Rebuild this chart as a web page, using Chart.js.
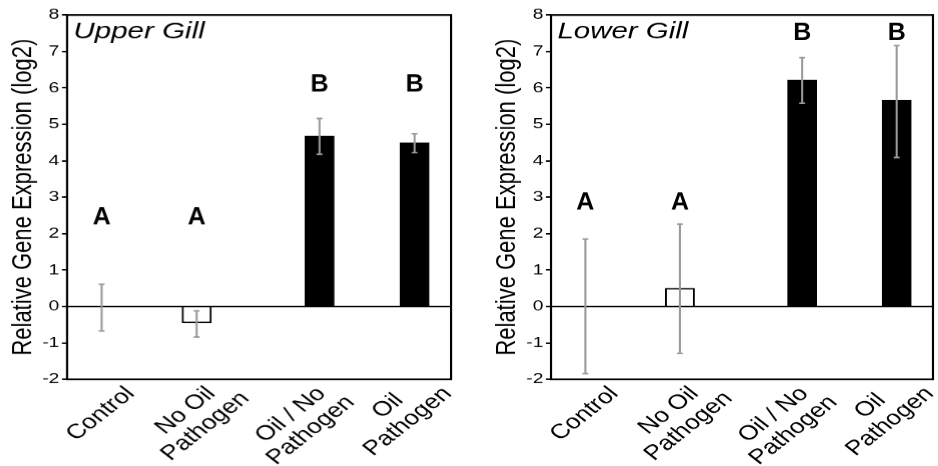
<!DOCTYPE html>
<html>
<head>
<meta charset="utf-8">
<script src="https://cdn.jsdelivr.net/npm/chart.js@4.4.0/dist/chart.umd.min.js"></script>
<style>
  html, body { margin: 0; padding: 0; background: #fff; }
  .wrap { display: flex; width: 938px; height: 466px; }
  canvas { display: block; }
</style>
</head>
<body>
<div class="wrap">
  <canvas id="upperChart" width="367" height="466" style="width:470px;height:466px"></canvas>
  <canvas id="lowerChart" width="366" height="466" style="width:468px;height:466px"></canvas>
</div>
<script>
  // Dữ liệu chung
  const groupLabels = [['Control'], ['No Oil', 'Pathogen'], ['Oil / No', 'Pathogen'], ['Oil', 'Pathogen']];
  const barX = [0.36, 1.35, 2.63, 3.62];
  const labelX = [0.35, 1.41, 2.48, 3.55];
  const yMin = -2;
  const yMax = 8;

  // Upper Gill
  const upperValues = [0, -0.45, 4.68, 4.49];
  const upperErrLow = [-0.67, -0.84, 4.18, 4.22];
  const upperErrHigh = [0.61, -0.12, 5.16, 4.74];
  const upperLetters = ['A', 'A', 'B', 'B'];
  const upperLetterY = [2.44, 2.44, 6.1, 6.1];

  // Lower Gill
  const lowerValues = [0, 0.5, 6.22, 5.66];
  const lowerErrLow = [-1.84, -1.29, 5.58, 4.09];
  const lowerErrHigh = [1.85, 2.26, 6.83, 7.16];
  const lowerLetters = ['A', 'A', 'B', 'B'];
  const lowerLetterY = [2.84, 2.84, 7.51, 7.51];

  // the original figure is stretched sideways, so the canvas is too
  const K = 1.28;
  const FONT = "'Liberation Sans', Arial, sans-serif";
  Chart.defaults.font.family = FONT;
  Chart.defaults.color = '#000';

  function extrasPlugin(title, errLow, errHigh, letters, letterY) {
    return {
      id: 'panelExtras',
      afterDatasetsDraw(chart) {
        const { ctx, chartArea: a, scales: { x, y } } = chart;
        ctx.save();

        // error bars
        ctx.strokeStyle = '#999';
        ctx.lineWidth = 1.6;
        for (let i = 0; i < barX.length; i++) {
          const px = x.getPixelForValue(barX[i]);
          const top = y.getPixelForValue(errHigh[i]);
          const bot = y.getPixelForValue(errLow[i]);
          ctx.beginPath();
          ctx.moveTo(px, top); ctx.lineTo(px, bot);
          ctx.moveTo(px - 2.3, top); ctx.lineTo(px + 2.3, top);
          ctx.moveTo(px - 2.3, bot); ctx.lineTo(px + 2.3, bot);
          ctx.stroke();
        }

        // box
        ctx.strokeStyle = '#000';
        ctx.lineWidth = 1.7;
        ctx.strokeRect(a.left, a.top, a.width, a.height);

        // letters (not stretched in the reference)
        ctx.fillStyle = '#000';
        ctx.font = `bold 25px ${FONT}`;
        ctx.textAlign = 'center';
        ctx.textBaseline = 'middle';
        for (let i = 0; i < letters.length; i++) {
          ctx.save();
          ctx.translate(x.getPixelForValue(barX[i]), y.getPixelForValue(letterY[i]));
          ctx.scale(1 / K, 1);
          ctx.fillText(letters[i], 0, 0);
          ctx.restore();
        }

        // panel title
        ctx.font = `italic 23px ${FONT}`;
        ctx.textAlign = 'left';
        ctx.textBaseline = 'alphabetic';
        ctx.fillText(title, a.left + 5, a.top + 23);

        // rotated category labels, lines centred, block box centred on labelX
        const fs = 20.5, lh = 22, cap = 0.72 * fs, r = Math.SQRT1_2;
        ctx.font = `${fs}px ${FONT}`;
        ctx.textAlign = 'center';
        ctx.textBaseline = 'middle';
        groupLabels.forEach((lines, i) => {
          let minX = Infinity, maxX = -Infinity, minY = Infinity;
          lines.forEach((t, j) => {
            const hw = ctx.measureText(t).width / 2;
            const tc = (j - (lines.length - 1) / 2) * lh;
            [[-hw, tc - cap / 2], [hw, tc - cap / 2], [-hw, tc + cap / 2], [hw, tc + cap / 2]].forEach(([s, v]) => {
              const X = r * (s + v), Y = r * (v - s);
              minX = Math.min(minX, X); maxX = Math.max(maxX, X); minY = Math.min(minY, Y);
            });
          });
          const cx = x.getPixelForValue(labelX[i]) - (minX + maxX) / 2;
          const cy = a.bottom + 6 - minY;
          ctx.save();
          ctx.translate(cx, cy);
          ctx.rotate(-Math.PI / 4);
          lines.forEach((t, j) => {
            ctx.fillText(t, 0, (j - (lines.length - 1) / 2) * lh);
          });
          ctx.restore();
        });

        ctx.restore();
      }
    };
  }

  function buildPanel(canvasId, title, values, errLow, errHigh, letters, letterY, padLeft, padRight) {
    const ctx = document.getElementById(canvasId).getContext('2d');
    return new Chart(ctx, {
      type: 'bar',
      data: {
        datasets: [{
          data: values.map((v, i) => ({ x: barX[i], y: v })),
          backgroundColor: ['#fff', '#fff', '#000', '#000'],
          borderColor: '#000',
          borderWidth: 1.5,
          barThickness: 22.7
        }]
      },
      options: {
        responsive: false,
        animation: false,
        devicePixelRatio: K,
        layout: { padding: { left: padLeft, right: padRight, top: 15, bottom: 0 } },
        plugins: {
          legend: { display: false },
          tooltip: { enabled: false }
        },
        scales: {
          x: {
            type: 'linear',
            min: 0,
            max: 4,
            offset: false,
            ticks: { display: false },
            grid: { display: false },
            border: { display: false },
            afterFit: s => { s.height = 87; }
          },
          y: {
            min: yMin,
            max: yMax,
            ticks: { stepSize: 1, color: '#000', font: { size: 15 }, padding: 2 },
            grid: {
              color: c => (c.tick && c.tick.value === 0 ? '#000' : 'rgba(0,0,0,0)'),
              lineWidth: 1.5,
              tickColor: '#000',
              tickWidth: 1.5,
              tickLength: 4
            },
            border: { display: false },
            title: {
              display: true,
              text: 'Relative Gene Expression (log2)',
              color: '#000',
              font: { size: 22 },
              padding: { top: 5, bottom: 0 }
            },
            afterFit: s => { s.width = 52.3; }
          }
        }
      },
      plugins: [extrasPlugin(title, errLow, errHigh, letters, letterY)]
    });
  }

  buildPanel('upperChart', 'Upper Gill', upperValues, upperErrLow, upperErrHigh, upperLetters, upperLetterY, 0, 15.4);
  buildPanel('lowerChart', 'Lower Gill', lowerValues, lowerErrLow, lowerErrHigh, lowerLetters, lowerLetterY, 11, 4.3);
</script>
</body>
</html>
